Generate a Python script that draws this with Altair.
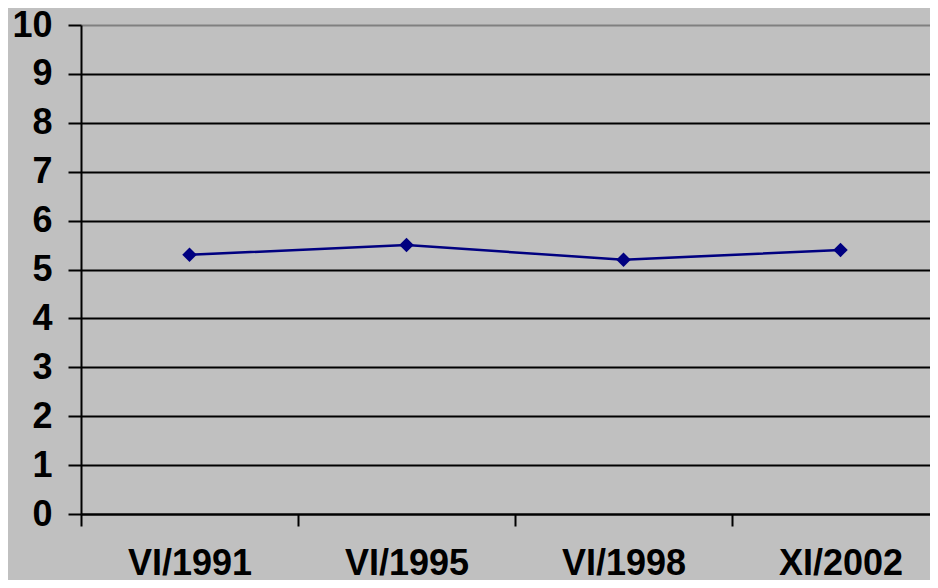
import altair as alt
import pandas as pd

categories = ["VI/1991", "VI/1995", "VI/1998", "XI/2002"]
values = [5.3, 5.5, 5.2, 5.4]
y_ticks = [0, 1, 2, 3, 4, 5, 6, 7, 8, 9, 10]

df = pd.DataFrame({"cat": categories, "val": values})

FONT = "Liberation Sans"

x_enc = alt.X(
    "cat:N",
    sort=None,
    title=None,
    scale=alt.Scale(type="band", paddingInner=0, paddingOuter=0),
    axis=alt.Axis(
        tickBand="extent",
        grid=False,
        domainColor="black",
        domainWidth=2,
        tickColor="black",
        tickWidth=2,
        tickSize=12,
        labelAngle=0,
        labelFont=FONT,
        labelFontSize=36,
        labelFontWeight="bold",
        labelColor="black",
        labelPadding=20,
    ),
)

y_enc = alt.Y(
    "val:Q",
    title=None,
    scale=alt.Scale(domain=[0, 10], nice=False, zero=True),
    axis=alt.Axis(
        values=y_ticks,
        grid=True,
        gridColor=alt.condition("datum.value == 10", alt.value("#808080"), alt.value("black")),
        gridWidth=2,
        gridOpacity=1,
        domainColor="black",
        domainWidth=2,
        tickColor="black",
        tickWidth=2,
        tickSize=13,
        labelFont=FONT,
        labelFontSize=36,
        labelFontWeight="bold",
        labelColor="black",
        labelPadding=16,
    ),
)

base = alt.Chart(df).encode(x=x_enc, y=y_enc)

line = base.mark_line(color="#000080", strokeWidth=2.5)
pts = base.mark_point(shape="diamond", filled=True, color="#000080", size=210, opacity=1)

chart = (
    alt.layer(line, pts)
    .properties(
        width=868,
        height=489,
        background="#c0c0c0",
        padding={"left": 73, "top": 17, "right": -19, "bottom": 66},
        autosize=alt.AutoSizeParams(type="none"),
    )
    .configure_view(stroke=None)
)

chart.save("out.html", embed_options={"renderer": "svg", "actions": False})
